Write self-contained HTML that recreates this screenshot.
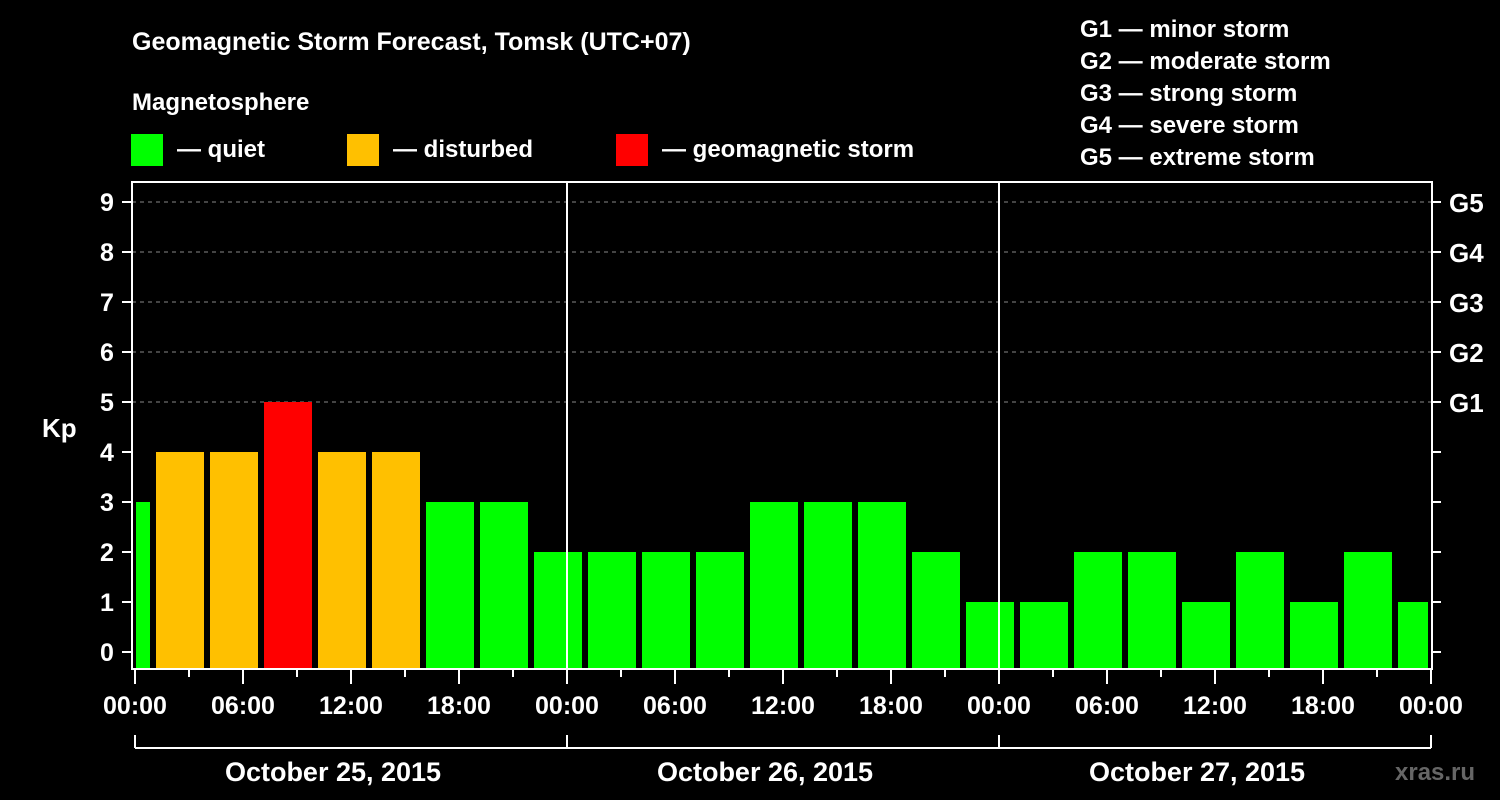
<!DOCTYPE html>
<html><head><meta charset="utf-8"><style>
body{margin:0;background:#000;width:1500px;height:800px;overflow:hidden}
svg{display:block;font-family:"Liberation Sans",Arial,sans-serif;font-weight:bold}
</style></head><body>
<svg id="chart" width="1500" height="800">
<text x="132" y="50" fill="#fff" font-size="25">Geomagnetic Storm Forecast, Tomsk (UTC+07)</text>
<text x="132" y="110" fill="#fff" font-size="24">Magnetosphere</text>
<g><rect x="131" y="134" width="32" height="32" fill="#00ff00"/><text x="177" y="157" fill="#fff" font-size="24">— quiet</text></g>
<g><rect x="347" y="134" width="32" height="32" fill="#ffc000"/><text x="393" y="157" fill="#fff" font-size="24">— disturbed</text></g>
<g><rect x="616" y="134" width="32" height="32" fill="#ff0000"/><text x="662" y="157" fill="#fff" font-size="24">— geomagnetic storm</text></g>
<g fill="#fff" font-size="24">
<text x="1080" y="37">G1 — minor storm</text>
<text x="1080" y="69">G2 — moderate storm</text>
<text x="1080" y="101">G3 — strong storm</text>
<text x="1080" y="133">G4 — severe storm</text>
<text x="1080" y="165">G5 — extreme storm</text>
</g>
<text x="42" y="437" fill="#fff" font-size="26">Kp</text>
<text x="1395" y="780" fill="#666" font-size="24">xras.ru</text>
<g id="grid"></g><g id="bars"></g><g id="axes"></g>
</svg>
<script>
const startHours=[-2,1,4,7,10,13,16,19,22,25,28,31,34,37,40,43,46,49,52,55,58,61,64,67,70];
const kpValues=[3,4,4,5,4,4,3,3,2,2,2,2,3,3,3,2,1,1,2,2,1,2,1,2,1];
const xTickLabels=["00:00","06:00","12:00","18:00"];
const dateLabels=["October 25, 2015","October 26, 2015","October 27, 2015"];
const gLabels=["G1","G2","G3","G4","G5"];
const NS="http://www.w3.org/2000/svg";
const X0=135,PXH=18,L=132,R=1432,T=182,B=669;
const x=h=>X0+h*PXH, y=k=>652-50*k;
function mk(tag,attrs,parent,txt){const e=document.createElementNS(NS,tag);for(const a in attrs)e.setAttribute(a,attrs[a]);if(txt!==undefined)e.textContent=txt;parent.appendChild(e);return e;}
const grid=document.getElementById('grid'),bars=document.getElementById('bars'),axes=document.getElementById('axes');
for(let k=5;k<=9;k++){const l=mk('line',{x1:L,x2:R,y1:y(k),y2:y(k),stroke:'#888','stroke-dasharray':'4,4','stroke-width':1},grid);

}
startHours.forEach((h,i)=>{const v=kpValues[i];
let a=Math.max(x(h)+3,L+4),b=Math.min(x(h+3)-3,R-4);
const c=v>=5?'#ff0000':v>=4?'#ffc000':'#00ff00';
const r=mk('rect',{x:a,y:y(v),width:b-a,height:B-y(v),fill:c},bars);

});
for(let d=1;d<3;d++){const l=mk('line',{x1:x(24*d),x2:x(24*d),y1:T,y2:B,stroke:'#fff','stroke-width':2},axes);

}
const fr=mk('rect',{x:L,y:T,width:R-L,height:B-T,fill:'none',stroke:'#fff','stroke-width':2},axes);


for(let k=0;k<=9;k++){mk('line',{x1:L-10,x2:L,y1:y(k),y2:y(k),stroke:'#fff','stroke-width':2},axes);
mk('line',{x1:R,x2:R+9,y1:y(k),y2:y(k),stroke:'#fff','stroke-width':2},axes);
const t=mk('text',{x:107,y:y(k)+9,fill:'#fff','font-size':25,'text-anchor':'middle'},axes,String(k));

}
gLabels.forEach((g,i)=>{const t=mk('text',{x:1449,y:y(5+i)+10,fill:'#fff','font-size':26},axes,g);

});
for(let h=0;h<=72;h+=3){const major=h%6===0;
mk('line',{x1:x(h),x2:x(h),y1:B,y2:B+(major?15:8),stroke:'#fff','stroke-width':2},axes);
if(major){const lab=h%24===0?"00:00":xTickLabels[(h%24)/6];
const t=mk('text',{x:x(h),y:714,fill:'#fff','font-size':25,'text-anchor':'middle'},axes,lab);

}}
mk('line',{x1:x(0),x2:x(72),y1:748,y2:748,stroke:'#fff','stroke-width':2},axes);
for(let d=0;d<=3;d++)mk('line',{x1:x(24*d),x2:x(24*d),y1:735,y2:748,stroke:'#fff','stroke-width':2},axes);
dateLabels.forEach((s,i)=>{const t=mk('text',{x:x(24*i+12)-18,y:781,fill:'#fff','font-size':27,'text-anchor':'middle'},axes,s);

});
</script>
</body></html>
